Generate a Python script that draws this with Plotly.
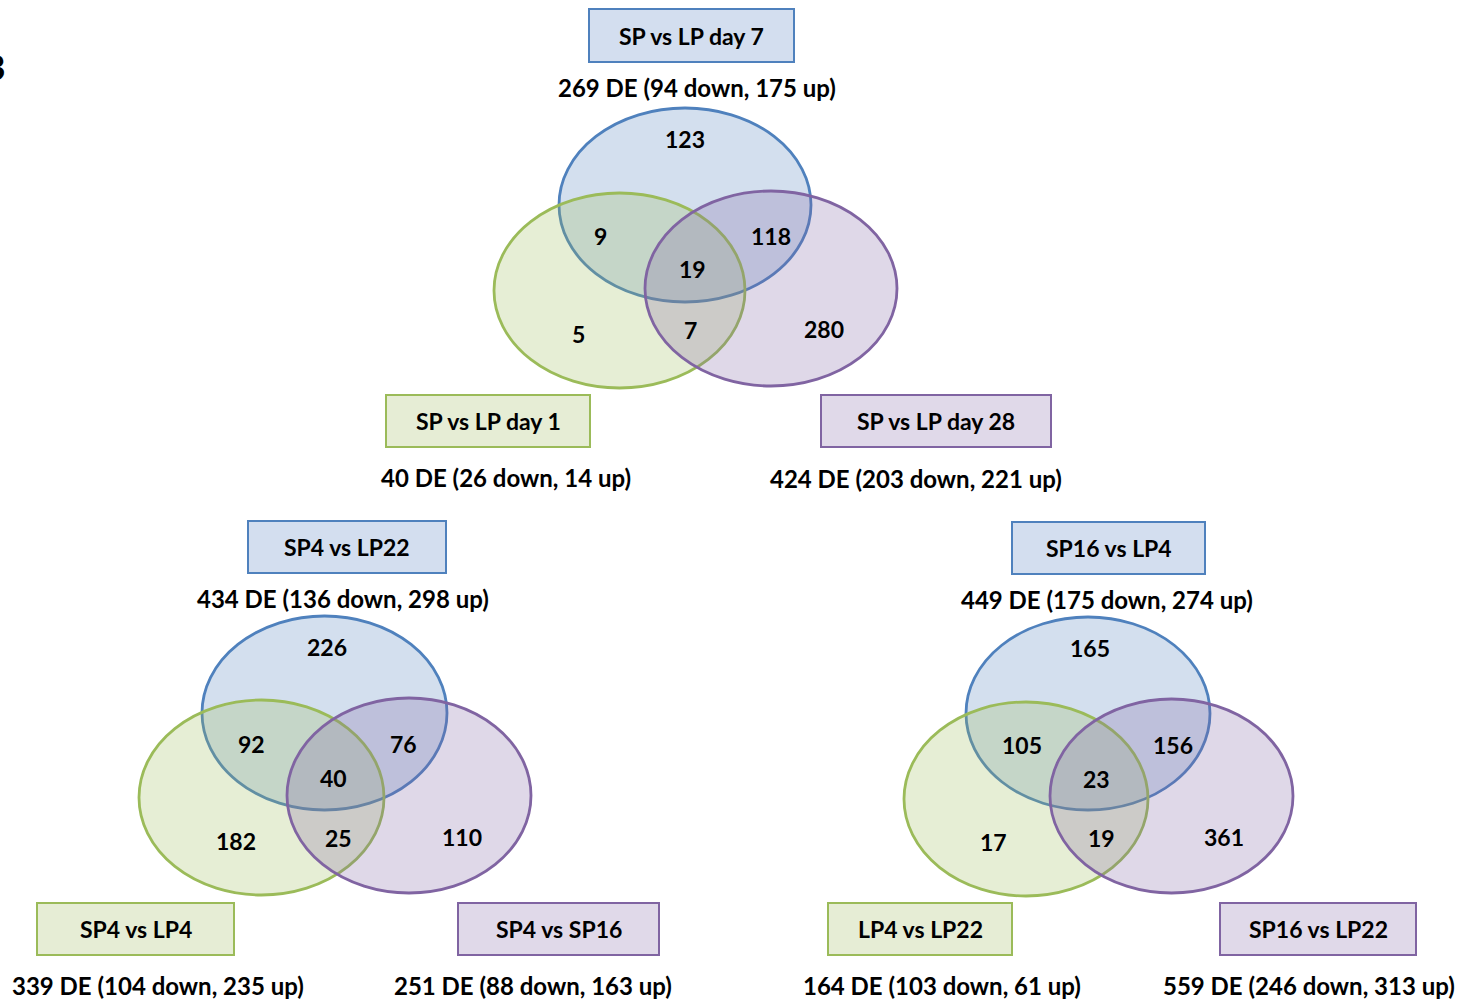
import plotly.graph_objects as go

# ---------------- data ----------------
set_labels = [
    ["SP vs LP day 7", "SP vs LP day 1", "SP vs LP day 28"],
    ["SP4 vs LP22", "SP4 vs LP4", "SP4 vs SP16"],
    ["SP16 vs LP4", "LP4 vs LP22", "SP16 vs LP22"],
]
de_total = [[269, 40, 424], [434, 339, 251], [449, 164, 559]]
de_down = [[94, 26, 203], [136, 104, 88], [175, 103, 246]]
de_up = [[175, 14, 221], [298, 235, 163], [274, 61, 313]]
# region order: A only, A&B, A&C, A&B&C, B only, B&C, C only  (A=blue, B=green, C=purple)
region_counts = [
    [123, 9, 118, 19, 5, 7, 280],
    [226, 92, 76, 40, 182, 25, 110],
    [165, 105, 156, 23, 17, 19, 361],
]

# ---------------- layout geometry (pixels) ----------------
ellipses = [
    [(685, 205, 126, 97), (619.5, 290.5, 125.5, 97.5), (771, 288.5, 126, 97.5)],
    [(324.5, 713, 122.5, 97), (261.5, 797.5, 122.5, 97.5), (409, 795.5, 122, 97.5)],
    [(1088, 713.5, 122, 96.5), (1026, 799, 122, 97), (1171.5, 796, 121.5, 97)],
]
boxes = [
    [(589, 9, 794, 62), (386, 395, 590, 447), (821, 395, 1051, 447)],
    [(248, 521, 446, 573), (37, 903, 234, 955), (458, 903, 659, 955)],
    [(1012, 522, 1205, 574), (828, 903, 1012, 955), (1220, 903, 1416, 955)],
]
subtitle_pos = [
    [(697, 87), (506, 477), (916, 478)],
    [(343, 598), (158, 985), (533, 985)],
    [(1107, 599), (942, 985), (1309, 985)],
]
region_pos = [
    [(685, 139), (600, 236), (771, 236), (692, 269), (578, 334), (690, 330), (824, 329)],
    [(327, 647), (251, 744), (403, 744), (333, 778), (236, 841), (338, 838), (462, 837)],
    [(1090, 648), (1022, 745), (1173, 745), (1096, 779), (993, 842), (1101, 838), (1224, 837)],
]

line_cols = ["#4F81BD", "#9BBB59", "#8064A2"]
fill_cols = ["rgba(79,129,189,0.25)", "rgba(155,187,89,0.25)", "rgba(128,100,162,0.25)"]
box_fill = ["#D3DEEF", "#E6EDD5", "#E0D9E9"]

FONT = "Lato"
fig = go.Figure()
shapes = []
annotations = []

for v in range(3):
    for s in range(3):
        cx, cy, rx, ry = ellipses[v][s]
        shapes.append(dict(type="circle", xref="x", yref="y",
                           x0=cx - rx, x1=cx + rx, y0=cy - ry, y1=cy + ry,
                           fillcolor=fill_cols[s], line=dict(color=line_cols[s], width=2.8),
                           layer="above"))
    for s in range(3):
        x0, y0, x1, y1 = boxes[v][s]
        shapes.append(dict(type="rect", xref="x", yref="y", x0=x0, x1=x1, y0=y0, y1=y1,
                           fillcolor=box_fill[s], line=dict(color=line_cols[s], width=2),
                           layer="above"))
        annotations.append(dict(x=(x0 + x1) / 2, y=(y0 + y1) / 2, xref="x", yref="y",
                                text="<b>%s</b>" % set_labels[v][s], showarrow=False,
                                font=dict(family=FONT, size=23, color="black"),
                                xanchor="center", yanchor="middle"))
        sx, sy = subtitle_pos[v][s]
        annotations.append(dict(x=sx, y=sy, xref="x", yref="y",
                                text="<b>%d DE (%d down, %d up)</b>" % (de_total[v][s], de_down[v][s], de_up[v][s]),
                                showarrow=False, font=dict(family=FONT, size=24, color="black"),
                                xanchor="center", yanchor="middle"))
    for r in range(7):
        rx_, ry_ = region_pos[v][r]
        annotations.append(dict(x=rx_, y=ry_, xref="x", yref="y",
                                text="<b>%d</b>" % region_counts[v][r], showarrow=False,
                                font=dict(family=FONT, size=23, color="black"),
                                xanchor="center", yanchor="middle"))

# panel label (cut off at left edge, as in the reference)
annotations.append(dict(x=6, y=66, xref="x", yref="y", text="<b>B</b>", showarrow=False,
                        font=dict(family=FONT, size=34, color="black"),
                        xanchor="right", yanchor="middle", borderpad=0))

fig.update_layout(
    width=1474, height=1000,
    margin=dict(l=0, r=0, t=0, b=0),
    paper_bgcolor="white", plot_bgcolor="white",
    xaxis=dict(range=[0, 1474], visible=False, fixedrange=True),
    yaxis=dict(range=[1000, 0], visible=False, fixedrange=True),
    shapes=shapes, annotations=annotations, showlegend=False,
)
fig.write_html("out.html", config={"displayModeBar": False},
               post_script="document.body.style.margin='0';document.body.style.overflow='hidden';")
